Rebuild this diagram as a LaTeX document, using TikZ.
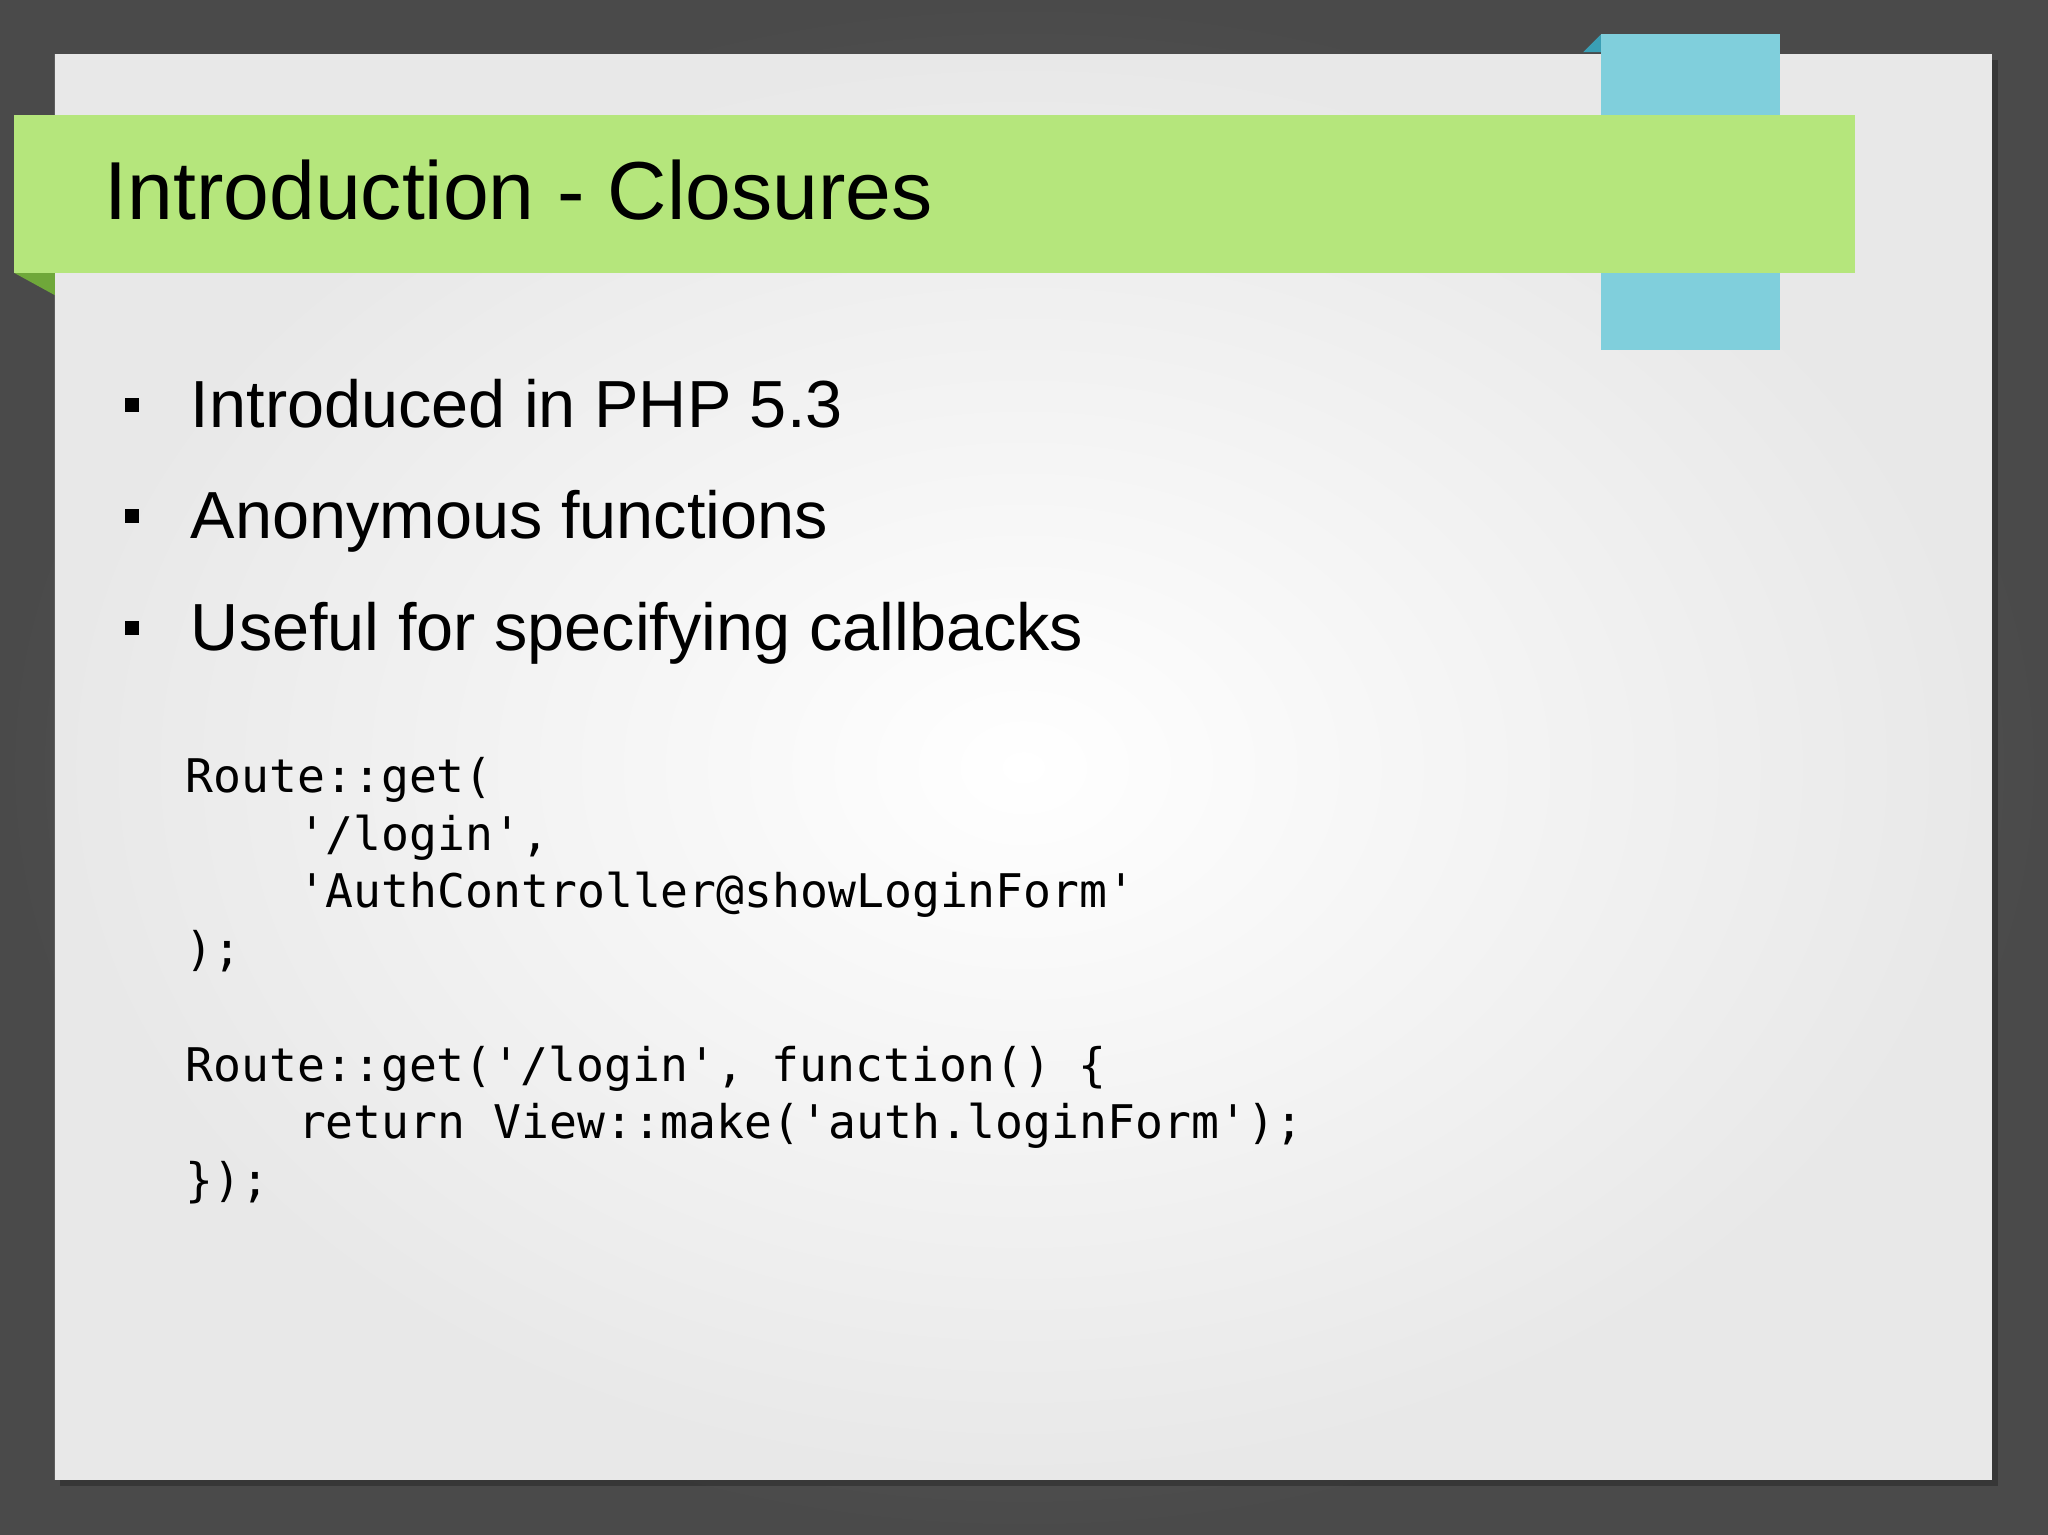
\documentclass[tikz,border=0pt]{standalone}
\usepackage{fontspec}
\setmainfont{Liberation Sans}
\newfontfamily\codefont{DejaVu Sans Mono}
\definecolor{bgdark}{HTML}{4A4A4A}
\definecolor{slide}{HTML}{E8E8E8}
\definecolor{green}{HTML}{B5E67C}
\definecolor{dgreen}{HTML}{6FA83A}
\definecolor{blue}{HTML}{80CFDC}
\definecolor{dblue}{HTML}{3A9FB5}
\tikzset{
  bullet/.style={anchor=base west,font=\fontsize{51}{55}\selectfont,inner sep=0},
  code/.style={anchor=base west,font=\codefont\fontsize{35.5}{40}\selectfont,inner sep=0},
  sq/.style={fill=black,minimum size=11pt,inner sep=0},
}
\begin{document}
\begin{tikzpicture}[x=1pt,y=-1pt]
\useasboundingbox (0,0) rectangle (1568,1175);
\shade[inner color=gray!85!black,outer color=bgdark] (0,0) rectangle (1568,1175);
\fill[black,opacity=0.25] (46,46) rectangle (1530,1138);
\shade[inner color=white,outer color=slide] (42,42) rectangle (1525,1133);
\fill[dblue] (1212,40) -- (1226,26) -- (1226,40) -- cycle;
\fill[blue] (1226,26) rectangle (1363,268);
\fill[dgreen] (11,209) -- (42,209) -- (42,226) -- cycle;
\fill[green] (11,88) rectangle (1420,209);
\node[anchor=base west,inner sep=0,font=\fontsize{63}{68}\selectfont] (title) at (80,168) {Introduction - Closures};
\node[sq] (b1) at (101,310) {};
\node[sq] (b2) at (101,395) {};
\node[sq] (b3) at (101,481) {};
\node[bullet] (t1) at (146,327) {Introduced in PHP 5.3};
\node[bullet] (t2) at (146,412) {Anonymous functions};
\node[bullet] (t3) at (146,498) {Useful for specifying callbacks};
\node[code] (c1) at (142,607) {Route::get(};
\node[code] (c2) at (228,651) {'/login',};
\node[code] (c3) at (228,695) {'AuthController@showLoginForm'};
\node[code] (c4) at (142,739) {);};
\node[code] (c5) at (142,828) {Route::get('/login', function() \{};
\node[code] (c6) at (228,872) {return View::make('auth.loginForm');};
\node[code] (c7) at (142,916) {\});};
\end{tikzpicture}
\end{document}
